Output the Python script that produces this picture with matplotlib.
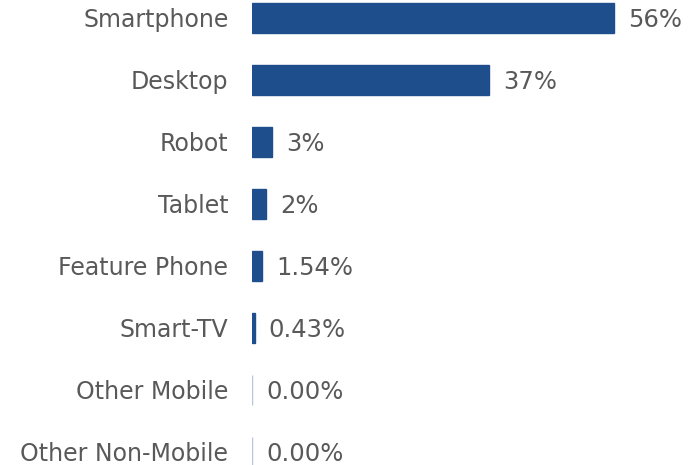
import matplotlib
matplotlib.use("Agg")
import matplotlib.pyplot as plt

categories = ["Smartphone", "Desktop", "Robot", "Tablet", "Feature Phone",
              "Smart-TV", "Other Mobile", "Other Non-Mobile"]
values = [56, 36.7, 3.1, 2.2, 1.54, 0.43, 0.0, 0.0]
value_labels = ["56%", "37%", "3%", "2%", "1.54%", "0.43%", "0.00%", "0.00%"]

bar_color = "#1f4e8c"
zero_color = "#b4c7df"
text_color = "#595959"

plt.rcParams["font.family"] = ["DejaVu Sans"]

fig = plt.figure(figsize=(6.99, 4.65), dpi=100)
ax = fig.add_axes([252 / 699, 0, 420 / 699, 1])

y = list(range(len(categories)))
edge = [zero_color if v == 0 else bar_color for v in values]
ax.barh(y, values, height=0.48, color=bar_color, edgecolor=edge, linewidth=1)

for yi, v, lab in zip(y, values, value_labels):
    ax.annotate(lab, (v, yi), xytext=(10, -1.5), textcoords="offset points",
                va="center", ha="left", fontsize=17.5, color=text_color)

ax.set_xlim(0, 65)
ax.set_ylim(7.21, -0.29)
ax.set_yticks(y)
ax.set_yticklabels(categories, fontsize=17, color=text_color)
ax.tick_params(axis="y", length=0, pad=17)
ax.set_xticks([])
for s in ax.spines.values():
    s.set_visible(False)

fig.savefig("out.png", dpi=100)
